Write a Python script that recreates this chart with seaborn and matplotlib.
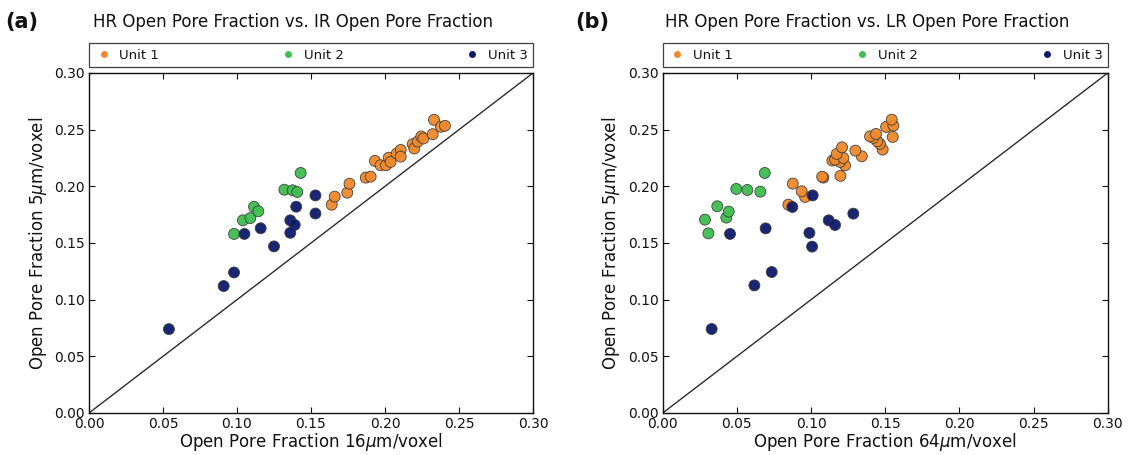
import numpy as np
import pandas as pd
import matplotlib
matplotlib.use("Agg")
import matplotlib.pyplot as plt
from matplotlib.lines import Line2D
import seaborn as sns

# ---- data -------------------------------------------------------------
units = ["Unit 1", "Unit 2", "Unit 3"]
unit_colors = ["#F0892B", "#3DBE4E", "#0B1A6B"]

# (a) HR (5 um/voxel) vs IR (16 um/voxel)
ir_unit1 = [0.164, 0.166, 0.1745, 0.176, 0.187, 0.1903, 0.1932, 0.197, 0.2007,
            0.2025, 0.2038, 0.2079, 0.2106, 0.2106, 0.2187, 0.2198, 0.2221,
            0.2245, 0.2259, 0.2322, 0.2331, 0.2378, 0.2405]
hr_a_unit1 = [0.1838, 0.1909, 0.1944, 0.2023, 0.2077, 0.2085, 0.2224, 0.2186,
              0.2186, 0.2253, 0.2215, 0.2289, 0.2321, 0.2262, 0.2372, 0.2334,
              0.2395, 0.2440, 0.2422, 0.2460, 0.2587, 0.2525, 0.2534]
ir_unit2 = [0.098, 0.104, 0.109, 0.1115, 0.1144, 0.132, 0.1376, 0.1407, 0.143]
hr_a_unit2 = [0.158, 0.170, 0.172, 0.182, 0.178, 0.197, 0.1965, 0.195, 0.2118]
ir_unit3 = [0.054, 0.091, 0.098, 0.105, 0.116, 0.125, 0.136, 0.139, 0.136,
            0.140, 0.153, 0.153]
hr_a_unit3 = [0.074, 0.112, 0.124, 0.158, 0.163, 0.147, 0.170, 0.166, 0.159,
              0.182, 0.192, 0.176]

# (b) HR (5 um/voxel) vs LR (64 um/voxel)
lr_unit1 = [0.0847, 0.0960, 0.0937, 0.0877, 0.1083, 0.1075, 0.1198, 0.1229,
            0.1196, 0.1144, 0.1162, 0.1218, 0.1342, 0.1173, 0.1299, 0.1483,
            0.1209, 0.1465, 0.1447, 0.1420, 0.1398, 0.1551, 0.1438, 0.1506,
            0.1555, 0.1544]
hr_b_unit1 = [0.1838, 0.1906, 0.1956, 0.2024, 0.2077, 0.2085, 0.2092, 0.2185,
              0.2215, 0.2227, 0.2236, 0.2250, 0.2265, 0.2286, 0.2315, 0.2324,
              0.2344, 0.2374, 0.2397, 0.2427, 0.2441, 0.2436, 0.2462, 0.2524,
              0.2536, 0.2588]
lr_unit2 = [0.0308, 0.0285, 0.0429, 0.0368, 0.0445, 0.0496, 0.0571, 0.0658,
            0.0688]
hr_b_unit2 = [0.1585, 0.1706, 0.1724, 0.1824, 0.1777, 0.1977, 0.1968, 0.1953,
              0.2118]
lr_unit3 = [0.0330, 0.0618, 0.0735, 0.0454, 0.0694, 0.1007, 0.1119, 0.1162,
            0.0989, 0.0874, 0.1011, 0.1285]
hr_b_unit3 = [0.0741, 0.1126, 0.1244, 0.1580, 0.1629, 0.1468, 0.1700, 0.1659,
              0.1589, 0.1818, 0.1920, 0.1759]

tick_values = [0.00, 0.05, 0.10, 0.15, 0.20, 0.25, 0.30]
tick_labels = ["0.00", "0.05", "0.10", "0.15", "0.20", "0.25", "0.30"]


def panel_frame(xs, ys):
    rows = []
    for unit, x, y in zip(units, xs, ys):
        rows.append(pd.DataFrame({"x": x, "y": y, "unit": unit}))
    return pd.concat(rows, ignore_index=True)


df_a = panel_frame([ir_unit1, ir_unit2, ir_unit3],
                   [hr_a_unit1, hr_a_unit2, hr_a_unit3])
df_b = panel_frame([lr_unit1, lr_unit2, lr_unit3],
                   [hr_b_unit1, hr_b_unit2, hr_b_unit3])

# ---- style --------------------------------------------------------------
sns.set_style("white")
plt.rcParams["font.family"] = ["DejaVu Sans"]
plt.rcParams["mathtext.fontset"] = "dejavusans"
plt.rcParams["text.color"] = "#111111"
plt.rcParams["axes.labelcolor"] = "#111111"

W, H = 1137, 455
fig = plt.figure(figsize=(W / 100, H / 100), dpi=100)
ax_a = fig.add_axes([89 / W, 1 - 413 / H, 444 / W, 340 / H])
ax_b = fig.add_axes([662.7 / W, 1 - 413 / H, 445 / W, 340 / H])

panels = [
    (ax_a, df_a, "(a)", 5, "HR Open Pore Fraction vs. IR Open Pore Fraction",
     r"Open Pore Fraction 16$\mu$m/voxel"),
    (ax_b, df_b, "(b)", 575, "HR Open Pore Fraction vs. LR Open Pore Fraction",
     r"Open Pore Fraction 64$\mu$m/voxel"),
]

for ax, df, tag, tag_x, title, xlabel in panels:
    ax.plot([0, 0.3], [0, 0.3], color="#2b2b2b", lw=1.0, zorder=2)
    sns.scatterplot(data=df, x="x", y="y", hue="unit", hue_order=units,
                    palette=unit_colors, s=62, edgecolor="#3a3a3a",
                    linewidth=0.6, alpha=0.95, legend=False, ax=ax, zorder=3)
    ax.set_xlim(0, 0.3)
    ax.set_ylim(0, 0.3)
    ax.set_xticks(tick_values)
    ax.set_xticklabels(tick_labels)
    ax.set_yticks(tick_values)
    ax.set_yticklabels(tick_labels)
    ax.tick_params(direction="in", length=4, width=0.8, bottom=True,
                   left=True, top=True, right=True, labelsize=10,
                   colors="#111111", pad=3)
    for sp in ax.spines.values():
        sp.set_color("#111111")
        sp.set_linewidth(1.0)
    ax.set_xlabel(xlabel, fontsize=12, labelpad=0)
    ax.set_ylabel(r"Open Pore Fraction 5$\mu$m/voxel", fontsize=12,
                  labelpad=4)

    handles = [Line2D([], [], marker="o", linestyle="none", markersize=5,
                      markerfacecolor=c, markeredgewidth=0)
               for c in unit_colors]
    leg = ax.legend(handles, units, loc="lower left",
                    bbox_to_anchor=(0, 1.018, 1, 0.078), mode="expand",
                    ncol=3, borderaxespad=0, fontsize=9.5, frameon=True,
                    fancybox=False, handlelength=1.4, handletextpad=0.5,
                    borderpad=0.4)
    leg.get_frame().set_edgecolor("#111111")
    leg.get_frame().set_linewidth(0.9)

    ax.text(0.46, 1.15, title, transform=ax.transAxes, ha="center",
            va="center", fontsize=12)
    fig.text(tag_x / W, 1 - 22 / H, tag, ha="left", va="center",
             fontsize=15, fontweight="bold")

fig.savefig("out.png", dpi=100)
